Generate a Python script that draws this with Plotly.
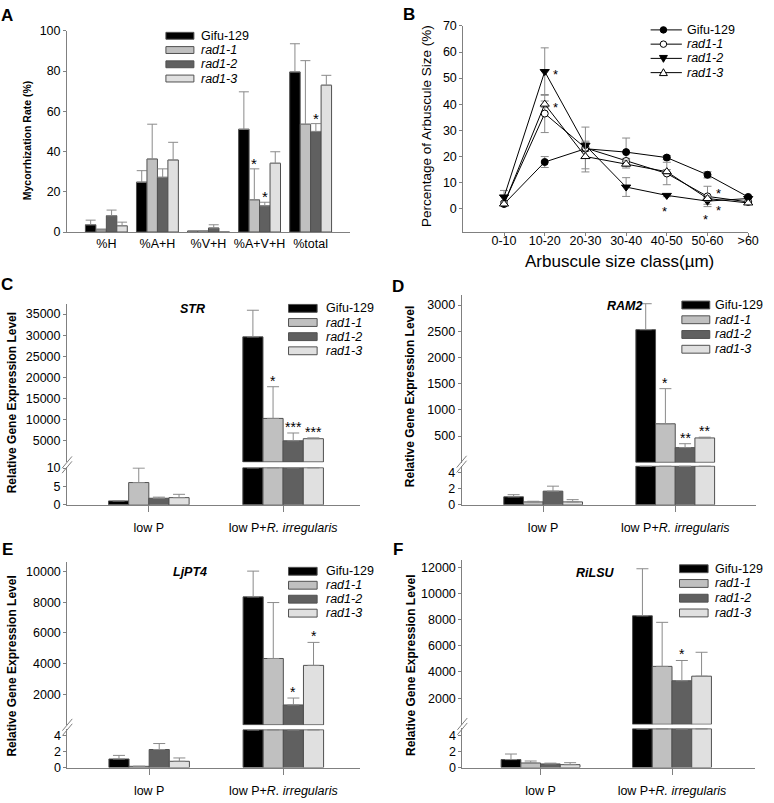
import plotly.graph_objects as go

W, H = 774, 803
FONT = "Arial, 'Liberation Sans', Helvetica, sans-serif"
AXIS_GRAY = "#808080"
ERR_GRAY = "#8a8a8a"
EDGE = "#505050"

# ---------------- data ----------------
GENOTYPES = ["Gifu-129", "rad1-1", "rad1-2", "rad1-3"]
BAR_COLORS = ["#000000", "#c0c0c0", "#606060", "#e0e0e0"]

# Panel A: mycorrhization rate (%)
A_categories = ["%H", "%A+H", "%V+H", "%A+V+H", "%total"]
A_gifu = [3.6, 24.8, 0.5, 51.1, 79.6]
A_gifu_err = [2.3, 5.7, 0.0, 18.6, 14.0]
A_rad1_1 = [1.1, 36.3, 0.5, 16.0, 53.6]
A_rad1_1_err = [0.4, 17.3, 0.1, 15.4, 31.6]
A_rad1_2 = [8.1, 27.2, 2.0, 13.0, 50.0]
A_rad1_2_err = [2.8, 4.2, 1.6, 1.8, 3.9]
A_rad1_3 = [3.1, 35.8, 0.0, 34.2, 73.0]
A_rad1_3_err = [1.8, 8.8, 0.0, 5.7, 4.9]
A_stars = [(1, 3, "*"), (2, 3, "*"), (2, 4, "*")]  # (genotype, category, label)

# Panel B: arbuscule size distribution (%)
B_categories = ["0-10", "10-20", "20-30", "30-40", "40-50", "50-60", ">60"]
B_gifu = [1.7, 17.8, 22.9, 21.6, 19.5, 12.9, 4.4]
B_gifu_err = [0.5, 2.1, 1.0, 5.4, 0.8, 1.2, 0.5]
B_rad1_1 = [2.0, 36.4, 23.2, 18.2, 13.4, 4.6, 2.5]
B_rad1_1_err = [0.5, 7.3, 8.0, 1.0, 4.3, 3.9, 0.3]
B_rad1_2 = [4.4, 52.5, 24.2, 8.2, 5.0, 2.8, 3.8]
B_rad1_2_err = [2.5, 9.1, 1.0, 3.6, 0.5, 1.2, 0.6]
B_rad1_3 = [1.7, 40.0, 19.9, 17.0, 14.1, 3.8, 2.1]
B_rad1_3_err = [0.5, 1.2, 5.9, 1.5, 0.8, 1.0, 0.3]
B_stars = [(2, 1, "right"), (3, 1, "right"), (2, 4, "below"),
           (1, 5, "right"), (2, 5, "right"), (2, 5, "below")]
B_star_yshift = [-3, -3, -16, 3, -9, -18]   # placement nudges (px)

# Panels C-F: relative gene expression
EXPR_categories = ["low P", "low P+<i>R. irregularis</i>"]

STR_lowP = [1.07, 6.07, 1.8, 1.97]
STR_lowP_err = [0.1, 3.93, 0.3, 0.9]
STR_myc = [29600, 10300, 5000, 5500]
STR_myc_err = [6300, 7500, 1850, 200]
STR_sig = ["", "*", "***", "***"]

RAM2_lowP = [1.0, 0.37, 1.71, 0.37]
RAM2_lowP_err = [0.27, 0.08, 0.62, 0.28]
RAM2_myc = [2530, 735, 280, 465]
RAM2_myc_err = [495, 670, 75, 15]
RAM2_sig = ["", "*", "**", "**"]

LJPT4_lowP = [1.07, 0.15, 2.26, 0.78]
LJPT4_lowP_err = [0.45, 0.0, 0.75, 0.42]
LJPT4_myc = [8350, 4330, 1300, 3880]
LJPT4_myc_err = [1680, 3650, 450, 1500]
LJPT4_sig = ["", "", "*", "*"]

RILSU_lowP = [1.0, 0.57, 0.45, 0.36]
RILSU_lowP_err = [0.7, 0.25, 0.1, 0.25]
RILSU_myc = [8300, 4430, 3330, 3680]
RILSU_myc_err = [3600, 3370, 1550, 1830]
RILSU_sig = ["", "", "*", ""]

# ---------------- helpers ----------------
fig = go.Figure()
layout = {}
shapes = []
annotations = []


def X(px):
    return px / W


def Y(py):
    return 1 - py / H


def ygeom(zero_py, ppu, bottom_py, top_py):
    return dict(domain=[Y(bottom_py), Y(top_py)],
                range=[(zero_py - bottom_py) / ppu, (zero_py - top_py) / ppu])


def tfont(size=12.5):
    return dict(family=FONT, size=size, color="black")


def yax(**kw):
    d = dict(showline=True, linecolor=AXIS_GRAY, linewidth=1, ticks="outside",
             ticklen=3, tickcolor=AXIS_GRAY, showgrid=False, zeroline=False,
             tickfont=tfont(), tickformat="d")
    d.update(kw)
    return d


def xax(**kw):
    d = dict(showline=True, linecolor=AXIS_GRAY, linewidth=1, showgrid=False,
             zeroline=False, tickfont=tfont(), tickcolor=AXIS_GRAY)
    d.update(kw)
    return d


def label(name):
    return name if name.startswith("Gifu") else "<i>%s</i>" % name


def add_text(px, py, text, size=12.5, **kw):
    d = dict(x=X(px), y=Y(py), xref="paper", yref="paper", text=text,
             showarrow=False, font=tfont(size))
    d.setdefault("xanchor", "center")
    d.update(kw)
    annotations.append(d)


def bar_legend(x0, x1, y0, step, tx, half=4):
    for i, g in enumerate(GENOTYPES):
        cy = y0 + i * step
        shapes.append(dict(type="rect", xref="paper", yref="paper",
                           x0=X(x0), x1=X(x1), y0=Y(cy + half), y1=Y(cy - half),
                           fillcolor=BAR_COLORS[i], line=dict(color=EDGE, width=1)))
        add_text(tx, cy, label(g), xanchor="left", yanchor="middle")


def break_marks(ax_px, upper_bottom_py, lower_top_py):
    cy = (upper_bottom_py + lower_top_py) / 2
    for d in (-2.5, 2.5):
        shapes.append(dict(type="line", xref="paper", yref="paper",
                           x0=X(ax_px - 5), y0=Y(cy + d + 6),
                           x1=X(ax_px + 5), y1=Y(cy + d - 6),
                           line=dict(color=AXIS_GRAY, width=1)))


# ---------------- Panel A ----------------
A_vals = [A_gifu, A_rad1_1, A_rad1_2, A_rad1_3]
A_errs = [A_gifu_err, A_rad1_1_err, A_rad1_2_err, A_rad1_3_err]
wA = 0.205
xa = list(range(len(A_categories)))
for i in range(4):
    fig.add_trace(go.Bar(
        x=xa, y=A_vals[i], width=wA, offset=(i - 2) * wA,
        marker=dict(color=BAR_COLORS[i], line=dict(color=EDGE, width=1)),
        error_y=dict(type="data", symmetric=False, array=A_errs[i],
                     arrayminus=[0] * len(xa), color=ERR_GRAY, thickness=1, width=5),
        xaxis="x", yaxis="y", showlegend=False, hoverinfo="skip"))
for gi, ci, txt in A_stars:
    annotations.append(dict(x=ci + (gi - 2) * wA + wA / 2, y=A_vals[gi][ci] + A_errs[gi][ci],
                            xref="x", yref="y", text=txt, showarrow=False,
                            font=tfont(15), yanchor="bottom", yshift=-5))
layout["xaxis"] = xax(domain=[X(68), X(355)], range=[-0.77, 4.77], tickvals=xa,
                      ticktext=A_categories, ticks="", anchor="y", ticklabelstandoff=0)
layout["yaxis"] = yax(anchor="x", dtick=20, tick0=0, **ygeom(229, 2.047, 229, 24))
bar_legend(168.3, 196.7, 29.3, 14.5, 201.7, half=3.5)
add_text(7.5, 9, "<b>A</b>", size=17, yanchor="middle")
add_text(27, 136, "<b>Mycorrhization Rate (%)</b>", size=10.5, textangle=-90, yanchor="middle")

# ---------------- Panel B ----------------
B_vals = [B_gifu, B_rad1_1, B_rad1_2, B_rad1_3]
B_errs = [B_gifu_err, B_rad1_1_err, B_rad1_2_err, B_rad1_3_err]
B_markers = [dict(symbol="circle", size=7, color="black"),
             dict(symbol="circle", size=7, color="white"),
             dict(symbol="triangle-down", size=8, color="black"),
             dict(symbol="triangle-up", size=8, color="white")]
xb = list(range(len(B_categories)))
for i in range(4):
    m = dict(B_markers[i])
    m["line"] = dict(color="black", width=1)
    fig.add_trace(go.Scatter(
        x=xb, y=B_vals[i], mode="lines+markers", line=dict(color="black", width=1),
        marker=m, cliponaxis=False,
        error_y=dict(type="data", array=B_errs[i], color=ERR_GRAY, thickness=1, width=4),
        xaxis="x2", yaxis="y2", showlegend=False, hoverinfo="skip"))
for (gi, ci, where), ys in zip(B_stars, B_star_yshift):
    d = dict(x=ci, y=B_vals[gi][ci], xref="x2", yref="y2", text="*", showarrow=False,
             font=tfont(13), yshift=ys)
    if where == "right":
        d.update(xanchor="left", xshift=6)
    else:
        d.update(xshift=-2)
    annotations.append(d)
layout["xaxis2"] = xax(domain=[X(470), X(759)], range=[-1.0, 6.0], tickvals=xb,
                       ticktext=B_categories, ticks="outside", ticklen=3, anchor="y2",
                       ticklabelstandoff=-6, tickfont=tfont(12.5))
layout["yaxis2"] = yax(anchor="x2", dtick=10, tick0=0, **ygeom(205, 2.653, 229, 19.3))
for i, g in enumerate(GENOTYPES):
    cy = 23.3 + i * 14.5
    shapes.append(dict(type="line", xref="paper", yref="paper", x0=X(660), x1=X(691.7),
                       y0=Y(cy), y1=Y(cy), line=dict(color="black", width=1)))
    cx = 673
    fill = B_markers[i]["color"]
    if B_markers[i]["symbol"] == "circle":
        shapes.append(dict(type="circle", xref="paper", yref="paper",
                           x0=X(cx - 3.3), x1=X(cx + 3.3), y0=Y(cy + 3.3), y1=Y(cy - 3.3),
                           fillcolor=fill, line=dict(color="black", width=1)))
    elif B_markers[i]["symbol"] == "triangle-down":
        shapes.append(dict(type="path", xref="paper", yref="paper",
                           path="M%f,%f L%f,%f L%f,%f Z" % (X(cx - 4), Y(cy - 3), X(cx + 4), Y(cy - 3), X(cx), Y(cy + 4)),
                           fillcolor=fill, line=dict(color="black", width=1)))
    else:
        shapes.append(dict(type="path", xref="paper", yref="paper",
                           path="M%f,%f L%f,%f L%f,%f Z" % (X(cx - 4), Y(cy + 3), X(cx + 4), Y(cy + 3), X(cx), Y(cy - 4)),
                           fillcolor=fill, line=dict(color="black", width=1)))
    add_text(695, cy, label(g), xanchor="left", yanchor="middle")
add_text(415, 7.5, "<b>B</b>", size=17, yanchor="middle")
add_text(433.3, 121, "Percentage of Arbuscule Size (%)", size=13.5, textangle=-90, yanchor="middle")
add_text(628, 259, "Arbuscule size class(µm)", size=17, yanchor="middle")

# ---------------- Panels C-F ----------------
PANELS = [
    dict(gene="STR", low=STR_lowP, low_err=STR_lowP_err, myc=STR_myc, myc_err=STR_myc_err,
         sig=STR_sig, xa="x3", yl="y3", yu="y4",
         xpx=(68, 365), xr=(-0.609, 1.571), w=0.15,
         up=(463.0, 129 / 30000, 463.5, 302), up_ticks=list(range(5000, 35001, 5000)),
         lo=(506.7, 3.74, 506.7, 468.3), lo_ticks=[0, 5, 10],
         title=(195, 307), leg=(292.7, 321.7, 306.7, 14.4, 328.3),
         letter=("C", 7.5, 282.5), ytitle=(12.5, 403)),
    dict(gene="RAM2", low=RAM2_lowP, low_err=RAM2_lowP_err, myc=RAM2_myc, myc_err=RAM2_myc_err,
         sig=RAM2_sig, xa="x4", yl="y5", yu="y6",
         xpx=(468.3, 766.7), xr=(-0.617, 1.61), w=0.149,
         up=(463.4, 133.4 / 2500, 463.8, 293.3), up_ticks=list(range(500, 3001, 500)),
         lo=(506.7, 8.17, 506.7, 466.7), lo_ticks=[0, 2, 4],
         title=(634, 304.3), leg=(691.7, 720, 303.3, 15, 723.3),
         letter=("D", 404, 284), ytitle=(416, 397)),
    dict(gene="LjPT4", low=LJPT4_lowP, low_err=LJPT4_lowP_err, myc=LJPT4_myc, myc_err=LJPT4_myc_err,
         sig=LJPT4_sig, xa="x5", yl="y7", yu="y8",
         xpx=(68.3, 365), xr=(-0.61, 1.57), w=0.15,
         up=(730.6, 0.0156, 731.0, 565), up_ticks=list(range(2000, 10001, 2000)),
         lo=(774, 8.1, 774, 735), lo_ticks=[0, 2, 4],
         title=(192.3, 575), leg=(292.7, 321.7, 574.3, 14.2, 328.3),
         letter=("E", 7.5, 551.7), ytitle=(12.5, 671)),
    dict(gene="RiLSU", low=RILSU_lowP, low_err=RILSU_lowP_err, myc=RILSU_myc, myc_err=RILSU_myc_err,
         sig=RILSU_sig, xa="x6", yl="y9", yu="y10",
         xpx=(469, 765.7), xr=(-0.595, 1.63), w=0.15,
         up=(730.0, 0.0133, 730.3, 563.3), up_ticks=list(range(2000, 12001, 2000)),
         lo=(774, 8.07, 774, 734), lo_ticks=[0, 2, 4],
         title=(603.3, 576), leg=(689.3, 718.3, 571.7, 15, 723.3),
         letter=("F", 404, 551.7), ytitle=(417.5, 670)),
]

xc = list(range(len(EXPR_categories)))
for p in PANELS:
    w = p["w"]
    lo_g = ygeom(*p["lo"])
    up_g = ygeom(*p["up"])
    lo_ppu = p["lo"][1]
    cap = lo_g["range"][1] - 0.6 / lo_ppu  # bars continuing above the break
    for i in range(4):
        common = dict(width=w, offset=(i - 2) * w, showlegend=False, hoverinfo="skip",
                      marker=dict(color=BAR_COLORS[i], line=dict(color=EDGE, width=1)),
                      xaxis=p["xa"])
        fig.add_trace(go.Bar(
            x=xc, y=[p["low"][i], min(p["myc"][i], cap)], yaxis=p["yl"],
            error_y=dict(type="data", symmetric=False, array=[p["low_err"][i], None],
                         arrayminus=[0, None], color=ERR_GRAY, thickness=1, width=6),
            **common))
        fig.add_trace(go.Bar(
            x=xc, y=[None, p["myc"][i]], yaxis=p["yu"],
            error_y=dict(type="data", symmetric=False, array=[None, p["myc_err"][i]],
                         arrayminus=[None, 0], color=ERR_GRAY, thickness=1, width=6),
            **common))
        if p["sig"][i]:
            annotations.append(dict(x=1 + (i - 2) * w + w / 2, y=p["myc"][i] + p["myc_err"][i],
                                    xref=p["xa"], yref=p["yu"], text=p["sig"][i],
                                    showarrow=False, font=tfont(14), yanchor="bottom", yshift=-4))
    xid = "xaxis" + p["xa"][1:]
    ylid = "yaxis" + p["yl"][1:]
    yuid = "yaxis" + p["yu"][1:]
    layout[xid] = xax(domain=[X(p["xpx"][0]), X(p["xpx"][1])], range=list(p["xr"]),
                      tickvals=xc, ticktext=EXPR_categories, ticks="outside", ticklen=6,
                      anchor=p["yl"], ticklabelstandoff=5)
    layout[ylid] = yax(anchor=p["xa"], tickmode="array", tickvals=p["lo_ticks"], **lo_g)
    layout[yuid] = yax(anchor=p["xa"], tickmode="array", tickvals=p["up_ticks"], **up_g)
    break_marks(p["xpx"][0], p["up"][2], p["lo"][3])
    bar_legend(*p["leg"])
    add_text(p["title"][0], p["title"][1], "<b><i>%s</i></b>" % p["gene"], yanchor="middle")
    add_text(p["letter"][1], p["letter"][2], "<b>%s</b>" % p["letter"][0], size=17, yanchor="middle")
    add_text(p["ytitle"][0], p["ytitle"][1], "<b>Relative Gene Expression Level</b>", size=12,
             textangle=-90, yanchor="middle")

fig.update_layout(
    width=W, height=H, autosize=False,
    margin=dict(l=0, r=0, t=0, b=0),
    paper_bgcolor="white", plot_bgcolor="white",
    barmode="overlay", showlegend=False,
    font=dict(family=FONT, size=12.5, color="black"),
    shapes=shapes, annotations=annotations,
    **layout)

fig.write_html("out.html", config={"displayModeBar": False},
               post_script="document.body.style.margin='0';document.body.style.padding='0';document.body.style.overflow='hidden';")
